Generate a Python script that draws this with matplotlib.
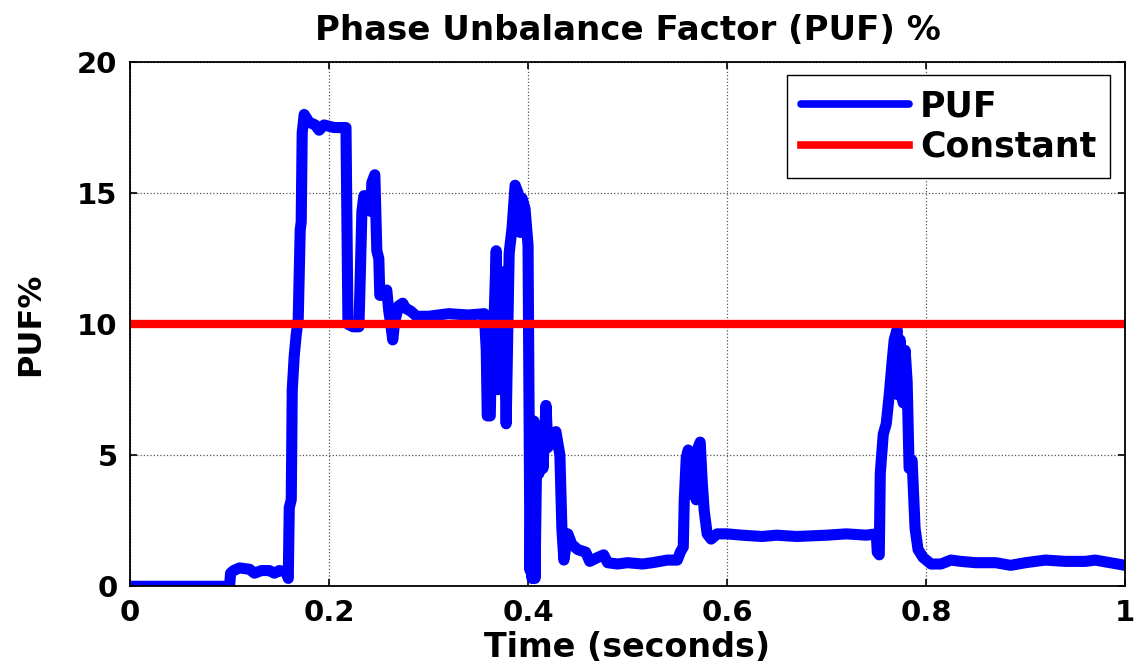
import matplotlib
matplotlib.use('Agg')
import matplotlib.pyplot as plt

# time (s) and PUF (%)
t = [0.000, 0.100, 0.101, 0.104, 0.110, 0.120, 0.125, 0.132, 0.140, 0.145,
     0.150, 0.157, 0.159, 0.160, 0.162, 0.163, 0.165, 0.167, 0.169, 0.171,
     0.172, 0.173, 0.175, 0.180, 0.186, 0.190, 0.195, 0.205, 0.217, 0.219,
     0.224, 0.230, 0.231, 0.233, 0.235, 0.240, 0.242, 0.243, 0.246, 0.248,
     0.250, 0.251, 0.255, 0.258, 0.260, 0.262, 0.264, 0.266, 0.270, 0.274,
     0.277, 0.282, 0.288, 0.300, 0.320, 0.340, 0.356, 0.358, 0.359, 0.362,
     0.363, 0.365, 0.368, 0.370, 0.372, 0.375, 0.378, 0.381, 0.384, 0.387,
     0.390, 0.392, 0.394, 0.397, 0.400, 0.402, 0.403, 0.404, 0.406, 0.407,
     0.409, 0.411, 0.413, 0.415, 0.418, 0.420, 0.425, 0.428, 0.432, 0.434,
     0.436, 0.440, 0.444, 0.450, 0.458, 0.462, 0.470, 0.476, 0.480, 0.490,
     0.500, 0.515, 0.525, 0.540, 0.550, 0.553, 0.556, 0.557, 0.559, 0.561,
     0.563, 0.566, 0.569, 0.571, 0.573, 0.575, 0.577, 0.580, 0.584, 0.590,
     0.600, 0.615, 0.635, 0.650, 0.670, 0.700, 0.720, 0.740, 0.750, 0.751,
     0.753, 0.754, 0.757, 0.760, 0.763, 0.766, 0.768, 0.771, 0.772, 0.774,
     0.777, 0.779, 0.781, 0.783, 0.786, 0.789, 0.792, 0.797, 0.805, 0.815,
     0.825, 0.835, 0.850, 0.870, 0.885, 0.900, 0.920, 0.940, 0.960, 0.970,
     0.985, 1.000]
puf = [0.0, 0.0, 0.5, 0.6, 0.7, 0.65, 0.5, 0.6, 0.6, 0.5,
       0.6, 0.55, 0.3, 3.0, 3.3, 7.5, 8.8, 9.6, 10.2, 13.6,
       13.9, 17.3, 18.0, 17.7, 17.6, 17.4, 17.6, 17.5, 17.5, 10.0,
       9.9, 9.9, 11.3, 14.3, 14.9, 14.9, 14.3, 15.4, 15.7, 12.8,
       12.5, 11.1, 11.1, 11.3, 10.5, 10.0, 9.4, 10.1, 10.7, 10.8,
       10.6, 10.5, 10.3, 10.3, 10.4, 10.35, 10.4, 9.0, 6.5, 6.5,
       8.5, 9.2, 12.8, 7.5, 10.0, 12.0, 6.2, 12.7, 13.7, 15.3,
       15.0, 13.5, 14.8, 14.4, 13.0, 0.6, 5.0, 0.3, 6.3, 0.3,
       6.0, 4.3, 6.0, 4.5, 6.9, 5.3, 5.8, 5.9, 5.0, 2.2,
       1.0, 2.0, 1.6, 1.4, 1.3, 0.95, 1.1, 1.2, 0.9, 0.85,
       0.9, 0.85, 0.9, 1.0, 1.0, 1.3, 1.5, 3.3, 4.9, 5.2,
       3.5, 4.8, 3.3, 5.3, 5.5, 4.0, 2.9, 2.0, 1.8, 2.0,
       2.0, 1.95, 1.9, 1.95, 1.9, 1.95, 2.0, 1.95, 2.0, 1.3,
       1.2, 4.3, 5.8, 6.2, 7.3, 8.6, 9.4, 9.8, 7.3, 9.4,
       7.0, 9.0, 7.8, 4.5, 4.8, 2.2, 1.4, 1.1, 0.85, 0.85,
       1.0, 0.95, 0.9, 0.9, 0.8, 0.9, 1.0, 0.95, 0.95, 1.0,
       0.9, 0.8]
const_t = [0, 1]
const_v = [10, 10]

plt.rcParams['font.family'] = ['DejaVu Sans']
plt.rcParams['font.weight'] = 'bold'

fig = plt.figure(figsize=(11.41, 6.67), dpi=100)
ax = fig.add_axes([0.114, 0.121, 0.872, 0.786])

ax.plot(t, puf, color='#0000ff', lw=8, solid_joinstyle='round',
        solid_capstyle='round', label='PUF')
ax.plot(const_t, const_v, color='#ff0000', lw=6, label='Constant')

ax.set_xlim(0, 1)
ax.set_ylim(0, 20)
ax.set_xticks([0, 0.2, 0.4, 0.6, 0.8, 1])
ax.set_xticklabels(['0', '0.2', '0.4', '0.6', '0.8', '1'])
ax.set_yticks([0, 5, 10, 15, 20])
ax.tick_params(direction='in', top=True, right=True, labelsize=21, length=5, width=1.2)
ax.tick_params(axis='x', pad=9)
ax.tick_params(axis='y', pad=9)
ax.grid(True, linestyle=':', color='#555555', linewidth=0.9)
for s in ax.spines.values():
    s.set_linewidth(1.3)

ax.set_title('Phase Unbalance Factor (PUF) %', fontsize=24.5, fontweight='bold', pad=16)
ax.set_xlabel('Time (seconds)', fontsize=24, fontweight='bold', labelpad=3)
ax.set_ylabel('PUF%', fontsize=23, fontweight='bold', labelpad=22)

leg = ax.legend(loc='upper right', bbox_to_anchor=(0.985, 0.975), borderaxespad=0,
                fontsize=25, fancybox=False, framealpha=1, edgecolor='black',
                handlelength=3.1, borderpad=0.4, labelspacing=0.2, handletextpad=0.32)
leg.get_frame().set_linewidth(1.0)
for h in leg.get_lines():
    h.set_linewidth(5.5)

fig.savefig('out.png', dpi=100)
